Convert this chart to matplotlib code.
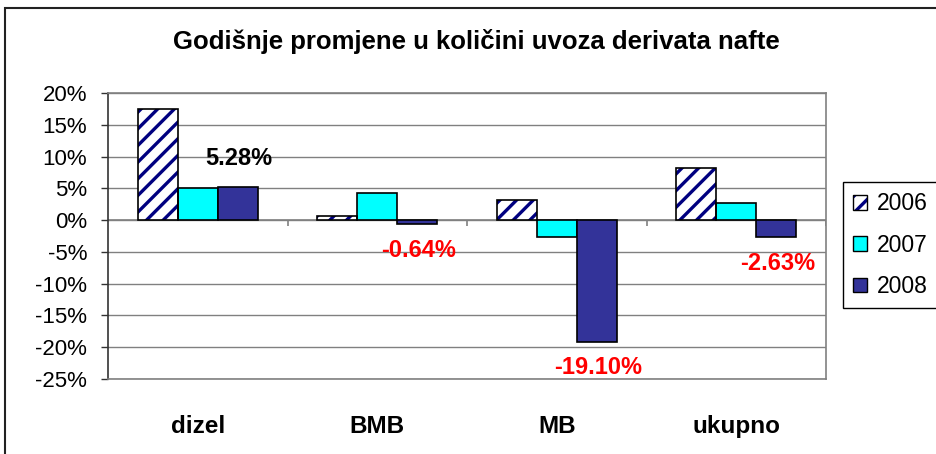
import matplotlib
matplotlib.use("Agg")
import matplotlib.pyplot as plt
import numpy as np
from matplotlib.patches import Patch, Rectangle

plt.rcParams["font.family"] = ["Liberation Sans", "DejaVu Sans"]
plt.rcParams["hatch.linewidth"] = 2.4

title = "Godišnje promjene u količini uvoza derivata nafte"
categories = ["dizel", "BMB", "MB", "ukupno"]
years = ["2006", "2007", "2008"]
v2006 = [17.5, 0.6, 3.1, 8.2]
v2007 = [5.1, 4.3, -2.7, 2.7]
v2008 = [5.28, -0.64, -19.10, -2.63]
labels_2008 = ["5.28%", "-0.64%", "-19.10%", "-2.63%"]
label_colors = ["black", "red", "red", "red"]

yticks = np.arange(-25, 21, 5)

fig = plt.figure(figsize=(9.36, 4.54), dpi=100)
ax = fig.add_axes([108/936, 75/454, 718/936, 286/454])

x = np.arange(len(categories))
w = 1 / 4.5

# 2006: hatched (navy stripes on white), black outline drawn separately
ax.bar(x - w, v2006, w, color="white", edgecolor="#000080", hatch="//", linewidth=0, zorder=3)
ax.bar(x - w, v2006, w, fill=False, edgecolor="black", linewidth=1.2, zorder=4)
ax.bar(x, v2007, w, color="#00FFFF", edgecolor="black", linewidth=1.2, zorder=3)
b8 = ax.bar(x + w, v2008, w, color="#333399", edgecolor="black", linewidth=1.2, zorder=3)

for rect, val, txt, col in zip(b8, v2008, labels_2008, label_colors):
    cx = rect.get_x() + rect.get_width() / 2
    off = 20 if val > 0 else -19
    ax.annotate(txt, (cx, val), xytext=(1, off), textcoords="offset points",
                ha="center", va="center", fontsize=17, fontweight="bold", color=col, zorder=5)

ax.set_xlim(-0.5, len(categories) - 0.5)
ax.set_ylim(-25, 20)
ax.set_yticks(yticks)
ax.set_yticklabels([f"{t}%" for t in yticks], fontsize=16)
ax.tick_params(axis="y", length=5, width=1, pad=10, color="#333333")
ax.set_xticks(x)
ax.set_xticklabels(categories, fontsize=17.5, fontweight="bold")
ax.tick_params(axis="x", length=0, pad=26)

ax.grid(axis="y", color="#808080", linewidth=1, zorder=0)
ax.set_axisbelow(True)
ax.axhline(0, color="#808080", linewidth=1.2, zorder=2)
bounds = np.arange(len(categories) + 1) - 0.5
ax.vlines(bounds[1:], -0.9, 0, color="#808080", linewidth=1.2, zorder=2)

for s in ["top", "right", "bottom"]:
    ax.spines[s].set_color("#808080")
    ax.spines[s].set_linewidth(1.2)
ax.spines["left"].set_color("#333333")
ax.spines["left"].set_linewidth(1.2)

fig.text(476/936, 1 - 42/454, title, ha="center", va="center", fontsize=18.5, fontweight="bold")

h2006 = (Patch(facecolor="white", edgecolor="#000080", hatch="//", linewidth=0),
         Patch(fill=False, edgecolor="black", linewidth=1))
h2007 = Patch(facecolor="#00FFFF", edgecolor="black", linewidth=1)
h2008 = Patch(facecolor="#333399", edgecolor="black", linewidth=1)
leg = fig.legend([h2006, h2007, h2008], years, loc="upper left",
                 bbox_to_anchor=(843/936, 1 - 182/454), fontsize=16.5,
                 handlelength=0.6, handleheight=0.6, handletextpad=0.45,
                 labelspacing=0.8, borderpad=0.45, borderaxespad=0,
                 fancybox=False, framealpha=1)
leg.get_frame().set_edgecolor("black")
leg.get_frame().set_linewidth(1)

fig.patches.append(Rectangle((5/936, -0.1), 1.2, 1 - 8/454 + 0.1, transform=fig.transFigure,
                             fill=False, edgecolor="#222222", linewidth=1.5))

fig.savefig("out.png", dpi=100)
